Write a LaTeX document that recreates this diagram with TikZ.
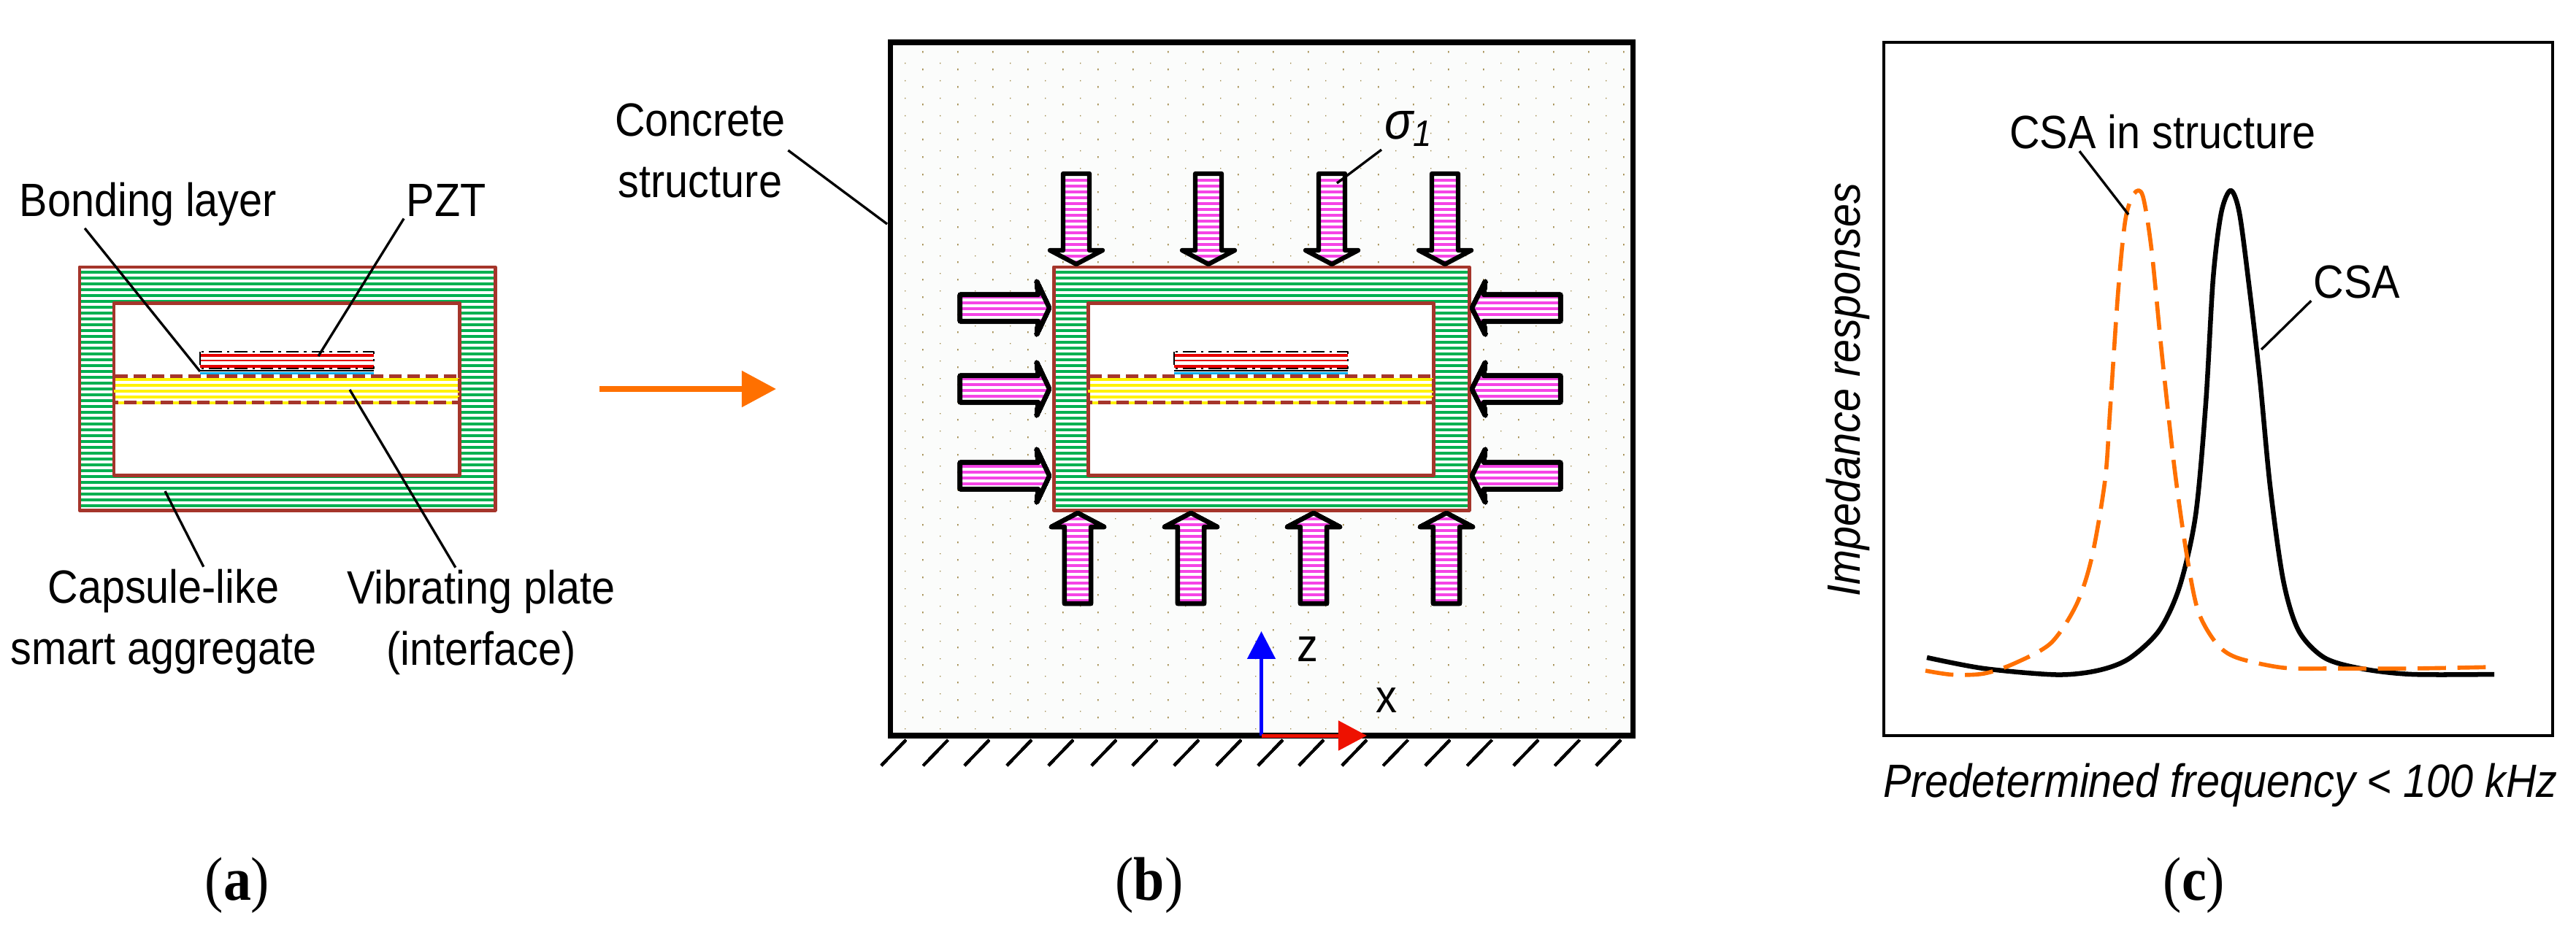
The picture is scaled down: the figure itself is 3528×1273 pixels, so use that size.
\documentclass[tikz,border=0pt]{standalone}
\usepackage{fontspec}
\setmainfont{Liberation Sans}[FakeStretch=0.9]
\newfontfamily\capfont{Liberation Serif}[FakeStretch=0.9]
\usetikzlibrary{arrows.meta}
\definecolor{capbrown}{HTML}{A5352B}
\definecolor{capgreen}{HTML}{00B050}
\definecolor{loadmag}{HTML}{F544E6}
\definecolor{layerblue}{HTML}{00B0F0}
\definecolor{pztred}{HTML}{E60000}
\definecolor{dotbrown}{HTML}{A08848}
\definecolor{concbg}{HTML}{FBFCFB}
\definecolor{csaorange}{HTML}{FF7000}
\definecolor{axisred}{HTML}{EE1100}
% one capsule, shifted along x
\newcommand{\drawcapsule}[1]{
	\begin{scope}[shift={(#1,0)}]
		\begin{scope}
			\clip (109,366) rectangle (678,699);
			\fill[white] (109,366) rectangle (678,699);
			\foreach \yy in {373,381,...,696} \draw[stripegreen] (109,\yy) -- (678,\yy);
		\end{scope}
		\fill[white] (156,415) rectangle (629,651);
		\draw[capline] (109,366) rectangle (678,699);
		\draw[capline] (156,415) rectangle (629,651);
		\foreach \yy in {520,528,536,544,552} \draw[stripeyellow] (156,\yy) -- (629,\yy);
		\draw[capline,dash pattern=on 4.8pt off 2.3pt] (156,515) rectangle (629,551);
		\foreach \yy/\lw in {487/1.14pt,494/0.85pt,502/1.14pt} \draw[pztred,line width=\lw] (274,\yy) -- (512,\yy);
		\draw[line width=0.4pt,dash pattern=on 5pt off 2pt on 1pt off 2pt] (274,482) rectangle (512,505);
		\draw[line width=0.4pt] (274,508) -- (512,508);
		\draw[layerblue,line width=0.85pt] (274,511.5) -- (512,511.5);
	\end{scope}
}
% hatched block arrow from its outline
\newcommand{\loadarrow}[1]{
	\begin{scope}
		\clip #1;
		\fill[white] (1300,230) rectangle (2150,835);
		\foreach \yy in {231,239,...,831} \draw[stripemag] (1300,\yy) -- (2150,\yy);
	\end{scope}
	\draw[loadline] #1;
}
\begin{document}
\begin{tikzpicture}[x=0.01cm,y=-0.01cm,line join=round,
		lbl/.style={inner sep=1pt,outer sep=0pt,font=\fontsize{18.2}{23.9}\selectfont},
		lbltwo/.style={lbl,align=center},
		lblit/.style={lbl,font=\fontsize{18.2}{23.9}\selectfont\itshape},
		lblcap/.style={inner sep=1pt,anchor=base,font=\capfont\fontsize{24}{28}\selectfont},
		leader/.style={line width=0.95pt},
		capline/.style={capbrown,line width=1.42pt},
		stripegreen/.style={capgreen,line width=1.14pt},
		stripeyellow/.style={yellow,line width=1.14pt},
		stripemag/.style={loadmag,line width=0.97pt},
		loadline/.style={line width=1.8pt},
		csaline/.style={line width=1.85pt},
		csadash/.style={csaorange,line width=1.6pt,dash pattern=on 11pt off 4.5pt}]
	\useasboundingbox (0,0) rectangle (3528,1273);
	% (a)
	\drawcapsule{0}
	\node[lbl,anchor=base] (lblBonding) at (203,296) {Bonding layer};
	\node[lbl,anchor=base] (lblPZT) at (611,296) {PZT};
	\node[lbltwo] (lblCapsule) at (224,852) {Capsule-like\\smart aggregate};
	\node[lbltwo] (lblPlate) at (659,853) {Vibrating plate\\(interface)};
	\coordinate (bondingEnd) at (274,509);
	\coordinate (pztEnd) at (436,488);
	\coordinate (plateEnd) at (479,534);
	\coordinate (capsuleEnd) at (226,673);
	\draw[leader] (lblBonding.201) -- (bondingEnd);
	\draw[leader] (lblPZT.south west) -- (pztEnd);
	\draw[leader] (lblPlate.115) -- (plateEnd);
	\draw[leader] (lblCapsule.54) -- (capsuleEnd);
	\coordinate (flowStart) at (821,533);
	\coordinate (flowEnd) at (1063,533);
	\draw[csaorange,line width=2.28pt,-{Triangle[length=13.4pt,width=13.7pt]}] (flowStart) -- (flowEnd);
	\node[lblcap] (capA) at (325,1233) {(\textbf{a})};
	% (b)
	\fill[concbg] (1219,58) rectangle (2236,1008);
	\fill[dotbrown] \foreach \i in {0,...,20} {\foreach \j in {0,...,38} {(1263+48*\i,70+24*\j) rectangle ++(1.6,2.4)}};
	\fill[dotbrown] \foreach \i in {0,...,20} {\foreach \j in {0,...,38} {(1239+48*\i,86+24*\j) rectangle ++(1.4,1.4)}};
	\draw[line width=2pt,line join=miter] (1219,58) rectangle (2236,1008);
	\drawcapsule{1334}
	\foreach \cx in {1474,1655,1824,1979}
		\loadarrow{(\cx-18,238) -- (\cx+18,238) -- (\cx+18,343) -- (\cx+36,343) -- (\cx,362) -- (\cx-36,343) -- (\cx-18,343) -- cycle}
	\foreach \cx in {1476,1631,1799,1981}
		\loadarrow{(\cx-18,827) -- (\cx+18,827) -- (\cx+18,722) -- (\cx+36,722) -- (\cx,703) -- (\cx-36,722) -- (\cx-18,722) -- cycle}
	\foreach \cy in {422,533,652} {
		\loadarrow{(1315,\cy-18) -- (1422,\cy-18) -- (1420,\cy-36) -- (1437,\cy) -- (1420,\cy+36) -- (1422,\cy+18) -- (1315,\cy+18) -- cycle}
		\loadarrow{(2137,\cy-18) -- (2032,\cy-18) -- (2034,\cy-36) -- (2016,\cy) -- (2034,\cy+36) -- (2032,\cy+18) -- (2137,\cy+18) -- cycle}
	}
	\foreach \gx in {1207,1264.5,1321,1379,1436,1495,1551,1608,1666,1723,1779,1838,1894.5,1952,2009.5,2073,2129.5,2186}
		\draw[line width=1pt] (\gx,1049) -- (\gx+33.7,1014);
	\coordinate (origin) at (1727.5,1008);
	\coordinate (axisZ) at (1727.5,865);
	\coordinate (axisX) at (1872,1008);
	\draw[blue,line width=1.42pt,-{Triangle[length=10.8pt,width=10.8pt]}] (origin) -- (axisZ);
	\draw[axisred,line width=1.42pt,-{Triangle[length=11.1pt,width=11.4pt]}] (origin) -- (axisX);
	\node[lbl,anchor=base] (lblZ) at (1791,906) {z};
	\node[lbl,anchor=base] (lblX) at (1899,976) {x};
	\node[lbltwo] (lblConcrete) at (959,206) {Concrete\\structure};
	\coordinate (concreteEnd) at (1215,307);
	\draw[leader] (lblConcrete.east) -- (concreteEnd);
	\node[inner sep=1pt,anchor=base west,font=\fontsize{20.5}{24}\selectfont\itshape] (lblSigma) at (1892,190) {σ\textsubscript{1}};
	\coordinate (sigmaEnd) at (1831,251);
	\draw[leader] (lblSigma.south west) -- (sigmaEnd);
	\node[lblcap] (capB) at (1574,1233) {(\textbf{b})};
	% (c)
	\draw[line width=1pt,line join=miter] (2580,58) rectangle (3496,1008);
	\draw[csaline] plot[smooth,tension=0.5] coordinates {(2639,901) (2717,916) (2816,924.5) (2872,919) (2915,903) (2957,864) (2985,804) (3007,706) (3021,552) (3031,381.5) (3042,292) (3055,261) (3067,292) (3081,398) (3095,519.5) (3109,666) (3127,795) (3148,864) (3183,901) (3233,916) (3303,924) (3416,924)};
	\draw[csadash] plot[smooth,tension=0.5] coordinates {(2637,919) (2674,924.5) (2717,923) (2759,909) (2809,881) (2844,828) (2865,763) (2883,657.5) (2890,560) (2901,398) (2911,300) (2923,265) (2934.5,268) (2946.5,341) (2961,487) (2978,641) (2994,755) (3010,836) (3035,881) (3063,901) (3127,915) (3197,916) (3303,916) (3416,914)};
	\node[lbl,anchor=base] (lblInStruct) at (2962,203) {CSA in structure};
	\node[lbl,anchor=base] (lblCSA) at (3228,408) {CSA};
	\coordinate (inStructEnd) at (2915,294);
	\coordinate (csaEnd) at (3097,479);
	\draw[leader] ([xshift=-1.14cm]lblInStruct.south) -- (inStructEnd);
	\draw[leader] (lblCSA.south west) -- (csaEnd);
	\node[lblit,anchor=base,rotate=90] (lblImpedance) at (2547,534) {Impedance responses};
	\node[lblit,anchor=base] (lblFreq) at (3041,1092) {Predetermined frequency < 100 kHz};
	\node[lblcap] (capC) at (3005,1233) {(\textbf{c})};
\end{tikzpicture}
\end{document}
